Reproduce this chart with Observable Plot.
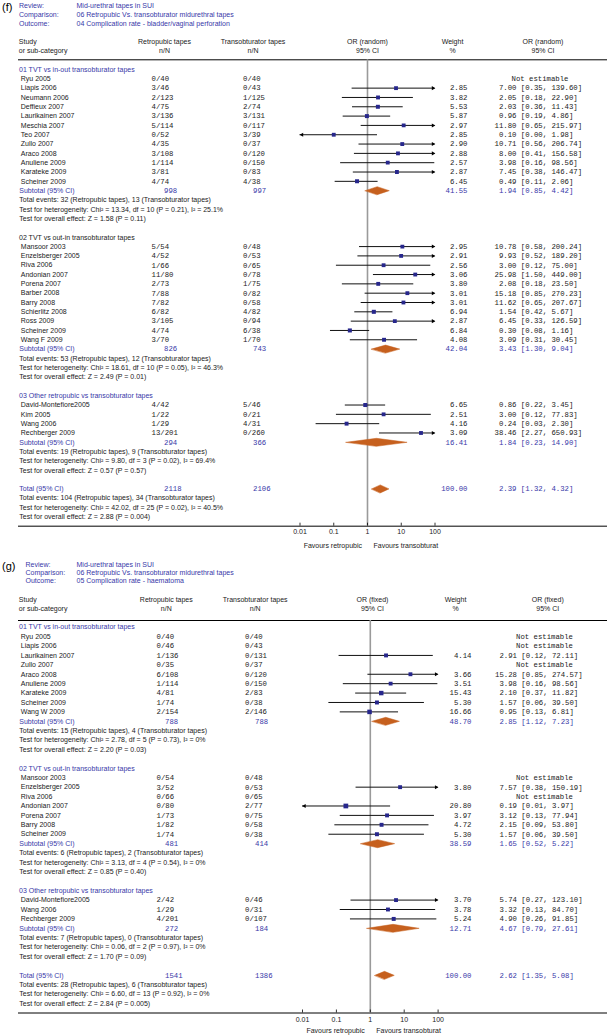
<!DOCTYPE html>
<html><head><meta charset="utf-8">
<script src="https://cdn.jsdelivr.net/npm/d3@7"></script>
<script src="https://cdn.jsdelivr.net/npm/@observablehq/plot@0.6"></script>
<style>
body{margin:0;background:#fff;}
#wrap svg{display:block;}
</style></head><body>
<div id="wrap"></div>
<script>
// ---------- shared ----------
const metaLabels = ["Review:", "Comparison:", "Outcome:"];
const tickValues = [0.01, 0.1, 1, 10, 100];
const tickLabels = ["0.01", "0.1", "1", "10", "100"];
const favourLabels = ["Favours retropubic", "Favours transobturat"];
const groupNames = ["01 TVT vs in-out transobturator tapes", "02 TVT vs out-in transobturator tapes", "03 Other retropubic vs transobturator tapes"];

// ---------- panel (f) ----------
const fMeta = ["Mid-urethral tapes in SUI", "06 Retropubic Vs. transobturator midurethral tapes", "04 Complication rate - bladder/vaginal perforation"];
const fColHeads = ["Study\nor sub-category", "Retropubic tapes\nn/N", "Transobturator tapes\nn/N", "OR (random)\n95% CI", "Weight\n%", "OR (random)\n95% CI"];
const fStudy = ["Ryu 2005","Liapis 2006","Neumann 2006","Deffieux 2007","Laurikainen 2007","Meschia 2007","Teo 2007","Zullo 2007","Araco 2008","Anuliene 2009","Karateke 2009","Scheiner 2009",
  "Mansoor 2003","Enzelsberger 2005","Riva 2006","Andonian 2007","Porena 2007","Barber 2008","Barry 2008","Schierlitz 2008","Ross 2009","Scheiner 2009","Wang F 2009",
  "David-Montefiore2005","Kim 2005","Wang 2006","Rechberger 2009"];
const fGroupIdx = [0,0,0,0,0,0,0,0,0,0,0,0, 1,1,1,1,1,1,1,1,1,1,1, 2,2,2,2];
const fRetro = ["0/40","3/46","2/123","4/75","3/136","5/114","0/52","4/35","3/108","1/114","3/81","4/74",
  "5/54","4/52","1/66","11/80","2/73","7/88","7/82","6/82","3/105","4/74","3/70",
  "4/42","1/22","1/29","13/201"];
const fTrans = ["0/40","0/43","1/125","2/74","3/131","0/117","3/39","0/37","0/120","0/150","0/83","4/38",
  "0/48","0/53","0/65","0/78","1/75","0/82","0/58","4/82","0/94","6/38","1/70",
  "5/46","0/21","4/31","0/260"];
const fWeight = [null,2.85,3.82,5.53,5.87,2.97,2.85,2.90,2.88,2.57,2.87,6.45,
  2.95,2.91,2.56,3.06,3.80,3.01,3.01,6.94,2.87,6.84,4.08,
  6.65,2.51,4.16,3.09];
const fOR = [null,7.00,2.05,2.03,0.96,11.80,0.10,10.71,8.00,3.98,7.45,0.49,
  10.78,9.93,3.00,25.98,2.08,15.18,11.62,1.54,6.45,0.30,3.09,
  0.86,3.00,0.24,38.46];
const fLo = [null,0.35,0.18,0.36,0.19,0.65,0.00,0.56,0.41,0.16,0.38,0.11,
  0.58,0.52,0.12,1.50,0.18,0.85,0.65,0.42,0.33,0.08,0.31,
  0.22,0.12,0.03,2.27];
const fHi = [null,139.60,22.90,11.43,4.86,215.97,1.98,206.74,156.58,98.56,146.47,2.06,
  200.24,189.20,75.00,449.00,23.50,270.23,207.67,5.67,126.59,1.16,30.45,
  3.45,77.83,2.30,650.93];
const fSubRetro = [998, 826, 294];
const fSubTrans = [997, 743, 366];
const fSubWeight = [41.55, 42.04, 16.41];
const fSubOR = [1.94, 3.43, 1.84];
const fSubLo = [0.85, 1.30, 0.23];
const fSubHi = [4.42, 9.04, 14.90];
const fEvents = ["Total events: 32 (Retropubic tapes), 13 (Transobturator tapes)", "Total events: 53 (Retropubic tapes), 12 (Transobturator tapes)", "Total events: 19 (Retropubic tapes), 9 (Transobturator tapes)", "Total events: 104 (Retropubic tapes), 34 (Transobturator tapes)"];
const fHet = ["Test for heterogeneity: Chi² = 13.34, df = 10 (P = 0.21), I² = 25.1%", "Test for heterogeneity: Chi² = 18.61, df = 10 (P = 0.05), I² = 46.3%", "Test for heterogeneity: Chi² = 9.80, df = 3 (P = 0.02), I² = 69.4%", "Test for heterogeneity: Chi² = 42.02, df = 25 (P = 0.02), I² = 40.5%"];
const fOverall = ["Test for overall effect: Z = 1.58 (P = 0.11)", "Test for overall effect: Z = 2.49 (P = 0.01)", "Test for overall effect: Z = 0.57 (P = 0.57)", "Test for overall effect: Z = 2.88 (P = 0.004)"];
const fTotalN = [2118, 2106];
const fTotalEffect = [100.00, 2.39, 1.32, 4.32]; // weight, OR, lo, hi

// ---------- panel (g) ----------
const gMeta = ["Mid-urethral tapes in SUI", "06 Retropubic Vs. transobturator midurethral tapes", "05 Complication rate - haematoma"];
const gColHeads = ["Study\nor sub-category", "Retropubic tapes\nn/N", "Transobturator tapes\nn/N", "OR (fixed)\n95% CI", "Weight\n%", "OR (fixed)\n95% CI"];
const gStudy = ["Ryu 2005","Liapis 2006","Laurikainen 2007","Zullo 2007","Araco 2008","Anuliene 2009","Karateke 2009","Scheiner 2009","Wang W 2009",
  "Mansoor 2003","Enzelsberger 2005","Riva 2006","Andonian 2007","Porena 2007","Barry 2008","Scheiner 2009",
  "David-Montefiore2005","Wang 2006","Rechberger 2009"];
const gGroupIdx = [0,0,0,0,0,0,0,0,0, 1,1,1,1,1,1,1, 2,2,2];
const gRetro = ["0/40","0/46","1/136","0/35","6/108","1/114","4/81","1/74","2/154",
  "0/54","3/52","0/66","0/80","1/73","1/82","1/74",
  "2/42","1/29","4/201"];
const gTrans = ["0/40","0/43","0/131","0/37","0/120","0/150","2/83","0/38","2/146",
  "0/48","0/53","0/65","2/77","0/75","0/58","0/38",
  "0/46","0/31","0/107"];
const gWeight = [null,null,4.14,null,3.66,3.51,15.43,5.30,16.66,
  null,3.80,null,20.80,3.97,4.72,5.30,
  3.70,3.78,5.24];
const gOR = [null,null,2.91,null,15.28,3.98,2.10,1.57,0.95,
  null,7.57,null,0.19,3.12,2.15,1.57,
  5.74,3.32,4.90];
const gLo = [null,null,0.12,null,0.85,0.16,0.37,0.06,0.13,
  null,0.38,null,0.01,0.13,0.09,0.06,
  0.27,0.13,0.26];
const gHi = [null,null,72.11,null,274.57,98.56,11.82,39.50,6.81,
  null,150.19,null,3.97,77.94,53.80,39.50,
  123.10,84.70,91.85];
const gSubRetro = [788, 481, 272];
const gSubTrans = [788, 414, 184];
const gSubWeight = [48.70, 38.59, 12.71];
const gSubOR = [2.85, 1.65, 4.67];
const gSubLo = [1.12, 0.52, 0.79];
const gSubHi = [7.23, 5.22, 27.61];
const gEvents = ["Total events: 15 (Retropubic tapes), 4 (Transobturator tapes)", "Total events: 6 (Retropubic tapes), 2 (Transobturator tapes)", "Total events: 7 (Retropubic tapes), 0 (Transobturator tapes)", "Total events: 28 (Retropubic tapes), 6 (Transobturator tapes)"];
const gHet = ["Test for heterogeneity: Chi² = 2.78, df = 5 (P = 0.73), I² = 0%", "Test for heterogeneity: Chi² = 3.13, df = 4 (P = 0.54), I² = 0%", "Test for heterogeneity: Chi² = 0.06, df = 2 (P = 0.97), I² = 0%", "Test for heterogeneity: Chi² = 6.60, df = 13 (P = 0.92), I² = 0%"];
const gOverall = ["Test for overall effect: Z = 2.20 (P = 0.03)", "Test for overall effect: Z = 0.85 (P = 0.40)", "Test for overall effect: Z = 1.70 (P = 0.09)", "Test for overall effect: Z = 2.84 (P = 0.005)"];
const gTotalN = [1541, 1386];
const gTotalEffect = [100.00, 2.62, 1.35, 5.08];

// ---------- build rows ----------
function layout(d) {
  const rows = [];
  let r = 0;
  groupNames.forEach((name, gi) => {
    rows.push({kind: "header", row: r++, text: name, gi});
    d.study.forEach((s, i) => {
      if (d.groupIdx[i] === gi) rows.push({kind: "study", row: r++, name: s, retro: d.retro[i], trans: d.trans[i], weight: d.weight[i], or: d.or[i], lo: d.lo[i], hi: d.hi[i]});
    });
    rows.push({kind: "sub", row: r++, label: "Subtotal (95% CI)", retro: d.subRetro[gi], trans: d.subTrans[gi], weight: d.subWeight[gi], or: d.subOR[gi], lo: d.subLo[gi], hi: d.subHi[gi]});
    [d.events[gi], d.het[gi], d.overall[gi]].forEach(t => rows.push({kind: "note", row: r++, text: t}));
    r++;
  });
  rows.push({kind: "sub", row: r++, label: "Total (95% CI)", retro: d.totalN[0], trans: d.totalN[1], weight: d.totalEffect[0], or: d.totalEffect[1], lo: d.totalEffect[2], hi: d.totalEffect[3]});
  [d.events[3], d.het[3], d.overall[3]].forEach(t => rows.push({kind: "note", row: r++, text: t}));
  return {rows, axisRow: r};
}

const SANS = "'Liberation Sans', Arial, sans-serif";
const MONO = "'Liberation Mono', 'Courier New', monospace";
const BLUE = "#3838a8";
const NAVY = "#27278c";
const ORANGE = "#c6601e";
const INK = "#1a1a1a";
const fmtCI = d => (d.or.toFixed(2)).padStart(5, "\u00a0") + " [" + d.lo.toFixed(2) + ", " + d.hi.toFixed(2) + "]";

function panel(cfg, d) {
  const {rows, axisRow} = layout(d);
  const y0 = cfg.row0, rp = cfg.rowPx;
  const topRow = (cfg.topLinePx - y0) / rp;
  const xMin = 0.01, xMax = 100;
  const cx = v => Math.min(Math.max(v, xMin), xMax);
  const headers = rows.filter(r => r.kind === "header");
  const studies = rows.filter(r => r.kind === "study");
  const est = studies.filter(r => r.or != null);
  const ne = studies.filter(r => r.or == null);
  const subs = rows.filter(r => r.kind === "sub");
  const notes = rows.filter(r => r.kind === "note");
  const h = cfg.diamondHalf / rp;
  const diamonds = subs.flatMap(s => [
    {id: s.row, x: s.lo, y: s.row}, {id: s.row, x: s.or, y: s.row - h},
    {id: s.row, x: s.hi, y: s.row}, {id: s.row, x: s.or, y: s.row + h}]);
  const boxR = w => (3.7 + 0.05 * w) / Math.sqrt(Math.PI);
  const T = (data, o) => Plot.text(data, {frameAnchor: "left", fontFamily: SANS, fontSize: 7, textAnchor: "start", fill: INK, ...o});
  const M = (data, o) => Plot.text(data, {frameAnchor: "left", fontFamily: MONO, fontSize: 7.3, textAnchor: "start", fill: "#222", ...o});
  const H = (data, o) => Plot.text(data, {frameAnchor: "top-left", fontFamily: SANS, fontSize: 7, lineAnchor: "middle", fill: INK, ...o});
  const ch = cfg.colX;
  return Plot.plot({
    width: 607, height: cfg.height, margin: 0,
    x: {type: "log", domain: [xMin, xMax], range: cfg.xRange, axis: null},
    y: {type: "linear", domain: [0, 1], range: [y0, y0 + rp], axis: null},
    r: {type: "identity"},
    style: {background: "white", overflow: "visible"},
    marks: [
      // panel letter, meta block, column heads
      H([cfg.letter], {text: d => d, dx: 1.5, dy: 6.5, fontSize: 11, textAnchor: "start", fill: "#000"}),
      H([metaLabels.join("\n")], {text: d => d, dx: cfg.reviewX, dy: cfg.metaY, lineHeight: cfg.metaGap / 7, textAnchor: "start", fill: BLUE}),
      H([d.meta.join("\n")], {text: d => d, dx: 76, dy: cfg.metaY, lineHeight: cfg.metaGap / 7, textAnchor: "start", fill: BLUE}),
      H([d.colHeads[0]], {text: d => d, dx: 18.3, dy: cfg.headY, lineHeight: cfg.headGap / 7, textAnchor: "start"}),
      ...d.colHeads.slice(1).map((t, i) => H([t], {text: d => d, dx: ch[i], dy: cfg.headY, lineHeight: cfg.headGap / 7, textAnchor: "middle"})),
      // rules
      Plot.ruleY([topRow, axisRow], {y: d => d, insetLeft: 18, stroke: "#000", strokeWidth: 1}),
      Plot.ruleX([1], {x: d => d, y1: topRow, y2: axisRow, stroke: "#9a9a9a", strokeWidth: 1.6}),
      Plot.ruleX(tickValues, {x: d => d, y1: axisRow - 3 / rp, y2: axisRow, stroke: "#000", strokeWidth: 0.8}),
      Plot.text(tickValues, {x: d => d, y: () => axisRow, dy: cfg.tickDy, text: (d, i) => tickLabels[i], fontFamily: SANS, fontSize: 7, fill: INK}),
      Plot.text([favourLabels[0]], {x: () => 1, y: () => axisRow, dx: -5.5, dy: cfg.favDy, text: d => d, textAnchor: "end", fontFamily: SANS, fontSize: 7, fill: INK}),
      Plot.text([favourLabels[1]], {x: () => 1, y: () => axisRow, dx: 6, dy: cfg.favDy, text: d => d, textAnchor: "start", fontFamily: SANS, fontSize: 7, fill: INK}),
      // CIs
      Plot.ruleY(est, {y: "row", x1: r => cx(r.lo), x2: r => cx(r.hi), stroke: "#111", strokeWidth: 1}),
      Plot.dot(est.filter(r => r.hi >= xMax), {x: r => cx(r.hi), y: "row", symbol: "triangle", rotate: 90, r: 1.5, dx: -2, fill: "#000", stroke: "none"}),
      Plot.dot(est.filter(r => r.lo <= xMin), {x: r => cx(r.lo), y: "row", symbol: "triangle", rotate: -90, r: 1.5, dx: 2, fill: "#000", stroke: "none"}),
      Plot.dot(est, {x: "or", y: "row", symbol: "square", r: r => boxR(r.weight), fill: NAVY, stroke: "none"}),
      Plot.line(diamonds, {x: "x", y: "y", z: "id", curve: "linear-closed", fill: ORANGE, stroke: ORANGE, strokeWidth: 0.5}),
      // text columns
      T(headers.filter(r => cfg.blackHeaders.includes(r.gi)), {y: "row", text: "text", dx: 18.5, fill: INK}),
      T(headers.filter(r => !cfg.blackHeaders.includes(r.gi)), {y: "row", text: "text", dx: 18.5, fill: BLUE}),
      T(studies, {y: "row", text: "name", dx: 20.3}),
      M(studies, {y: "row", text: "retro", dx: cfg.retroX}),
      M(studies, {y: "row", text: "trans", dx: cfg.transX}),
      M(est, {y: "row", text: r => r.weight.toFixed(2), dx: cfg.weightX, textAnchor: "end"}),
      M(est, {y: "row", text: fmtCI, dx: cfg.orX}),
      M(ne, {y: "row", text: () => "Not estimable", dx: cfg.neX, textAnchor: "middle"}),
      T(subs, {y: "row", text: "label", dx: 18.8, fill: BLUE}),
      M(subs, {y: "row", text: r => String(r.retro), dx: cfg.subRetroX, fill: BLUE}),
      M(subs, {y: "row", text: r => String(r.trans), dx: cfg.subTransX, fill: BLUE}),
      M(subs, {y: "row", text: r => r.weight.toFixed(2), dx: cfg.weightX, textAnchor: "end", fill: BLUE}),
      M(subs, {y: "row", text: fmtCI, dx: cfg.orX, fill: BLUE}),
      T(notes, {y: "row", text: "text", dx: 18.8})
    ]
  });
}

const fData = {meta: fMeta, colHeads: fColHeads, study: fStudy, groupIdx: fGroupIdx, retro: fRetro, trans: fTrans, weight: fWeight, or: fOR, lo: fLo, hi: fHi,
  subRetro: fSubRetro, subTrans: fSubTrans, subWeight: fSubWeight, subOR: fSubOR, subLo: fSubLo, subHi: fSubHi,
  events: fEvents, het: fHet, overall: fOverall, totalN: fTotalN, totalEffect: fTotalEffect};
const gData = {meta: gMeta, colHeads: gColHeads, study: gStudy, groupIdx: gGroupIdx, retro: gRetro, trans: gTrans, weight: gWeight, or: gOR, lo: gLo, hi: gHi,
  subRetro: gSubRetro, subTrans: gSubTrans, subWeight: gSubWeight, subOR: gSubOR, subLo: gSubLo, subHi: gSubHi,
  events: gEvents, het: gHet, overall: gOverall, totalN: gTotalN, totalEffect: gTotalEffect};

const fCfg = {letter: "(f)", height: 559, row0: 69, rowPx: 9.32, xRange: [299.5, 434.5], topLinePx: 59.3,
  reviewX: 18.5, metaY: 13.5, metaGap: 8.8, headY: 45.3, headGap: 9.3,
  colX: [164, 252.5, 367, 452, 542.5],
  retroX: 151, transX: 242.5, subRetroX: 163.5, subTransX: 252.5, weightX: 467, orX: 494, neX: 539.5,
  tickDy: 5.5, favDy: 19.3, diamondHalf: 4, blackHeaders: [1]};
const gCfg = {letter: "(g)", height: 477, row0: 67.7, rowPx: 9.41, xRange: [302, 437.6], topLinePx: 61,
  reviewX: 25, metaY: 12.7, metaGap: 8, headY: 44.4, headGap: 8.7,
  colX: [165.8, 254.7, 372, 455, 547.3],
  retroX: 156, transX: 244.5, subRetroX: 164.5, subTransX: 254.5, weightX: 471, orX: 494.5, neX: 544,
  tickDy: 6.3, favDy: 18, diamondHalf: 4, blackHeaders: []};

const wrap = document.getElementById("wrap");
wrap.appendChild(panel(fCfg, fData));
wrap.appendChild(panel(gCfg, gData));
</script>
</body></html>
